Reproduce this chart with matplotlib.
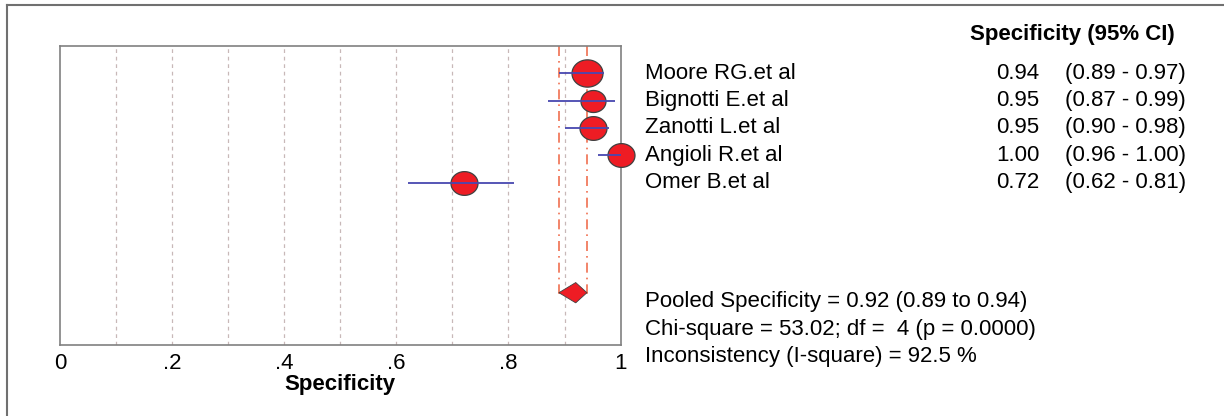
import numpy as np
import matplotlib
matplotlib.use("Agg")
import matplotlib.pyplot as plt
from matplotlib.path import Path
from matplotlib.lines import Line2D

# study data
studies = ["Moore RG.et al", "Bignotti E.et al", "Zanotti L.et al",
           "Angioli R.et al", "Omer B.et al"]
spec = [0.94, 0.95, 0.95, 1.00, 0.72]
ci_low = [0.89, 0.87, 0.90, 0.96, 0.62]
ci_high = [0.97, 0.99, 0.98, 1.00, 0.81]
weights = [31, 25, 27, 27, 27]  # marker width in px (study weight)

pooled = 0.92
pooled_low = 0.89
pooled_high = 0.94
stats_lines = ["Pooled Specificity = 0.92 (0.89 to 0.94)",
               "Chi-square = 53.02; df =  4 (p = 0.0000)",
               "Inconsistency (I-square) = 92.5 %"]

xticks = [0, 0.2, 0.4, 0.6, 0.8, 1.0]
xticklabels = ["0", ".2", ".4", ".6", ".8", "1"]
grid_x = [0.1, 0.2, 0.3, 0.4, 0.5, 0.6, 0.7, 0.8, 0.9]

plt.rcParams['font.family'] = ['Liberation Sans', 'DejaVu Sans']
FS = 16

fig = plt.figure(figsize=(12.24, 4.16), dpi=100)
ax = fig.add_axes([0.049, 0.171, 0.458, 0.718])

ypos = np.arange(1, len(studies) + 1)
pooled_y = 9

ax.set_xlim(0, 1)
ax.set_ylim(10.9, 0.02)

for gx in grid_x:
    ax.axvline(gx, color="#c8b8b8", lw=0.9, ls=(0, (3, 3)), zorder=1)

# pooled CI box lines
dash = (0, (6, 3, 1, 3))
ax.plot([pooled_low, pooled_low], [0, pooled_y], color="#f07050", lw=1.2, ls=dash, zorder=2)
ax.plot([pooled_high, pooled_high], [0, pooled_y], color="#f07050", lw=1.2, ls=dash, zorder=2)
ax.plot([pooled_low, pooled_high], [pooled_y, pooled_y], color="#f07050", lw=1.2, zorder=2)

# ellipse marker (slightly wider than tall)
t = np.linspace(0, 2 * np.pi, 60)
ell = Path(np.column_stack([np.cos(t), 0.88 * np.sin(t)]), closed=True)

for y, v, w in zip(ypos, spec, weights):
    ax.plot(v, y, marker=ell, ms=w * 0.72, mfc="#ee1c24", mec="#404040", mew=0.9,
            ls="none", zorder=3, clip_on=False)
ax.hlines(ypos, ci_low, ci_high, color="#4848b0", lw=1.3, zorder=4)

# pooled diamond
dx = [pooled_low, pooled, pooled_high, pooled, pooled_low]
dy = [pooled_y, pooled_y - 0.37, pooled_y, pooled_y + 0.37, pooled_y]
ax.fill(dx, dy, color="#ee1c24", ec="#404040", lw=0.6, zorder=3)

ax.set_xticks(xticks)
ax.set_xticklabels(xticklabels, fontsize=FS)
ax.tick_params(axis="x", length=0, pad=6)
ax.set_yticks([])
for s in ax.spines.values():
    s.set_color("#808080")
    s.set_linewidth(1.2)
ax.set_xlabel("Specificity", fontsize=FS, fontweight="bold", labelpad=0)

# right-side text
tr = ax.get_yaxis_transform()
fig.text(0.96, 0.918, "Specificity (95% CI)", fontsize=FS, fontweight="bold",
         ha="right", va="center")
for y, name, v, lo, hi in zip(ypos, studies, spec, ci_low, ci_high):
    ax.text(1.043, y, name, transform=tr, fontsize=FS, va="center", ha="left")
    ax.text(1.747, y, f"{v:.2f}", transform=tr, fontsize=FS, va="center", ha="right")
    ax.text(1.793, y, f"({lo:.2f} - {hi:.2f})", transform=tr, fontsize=FS,
            va="center", ha="left")

for i, line in enumerate(stats_lines):
    ax.text(1.043, pooled_y + 0.33 + i * 1.0, line, transform=tr, fontsize=FS,
            va="center", ha="left", clip_on=False)

# outer frame (top and left edges)
fig.add_artist(Line2D([0.0057, 0.0057], [0, 0.988], color="#707070", lw=1.5,
                      transform=fig.transFigure))
fig.add_artist(Line2D([0.0057, 1], [0.988, 0.988], color="#707070", lw=1.5,
                      transform=fig.transFigure))

fig.savefig("out.png", dpi=100)
